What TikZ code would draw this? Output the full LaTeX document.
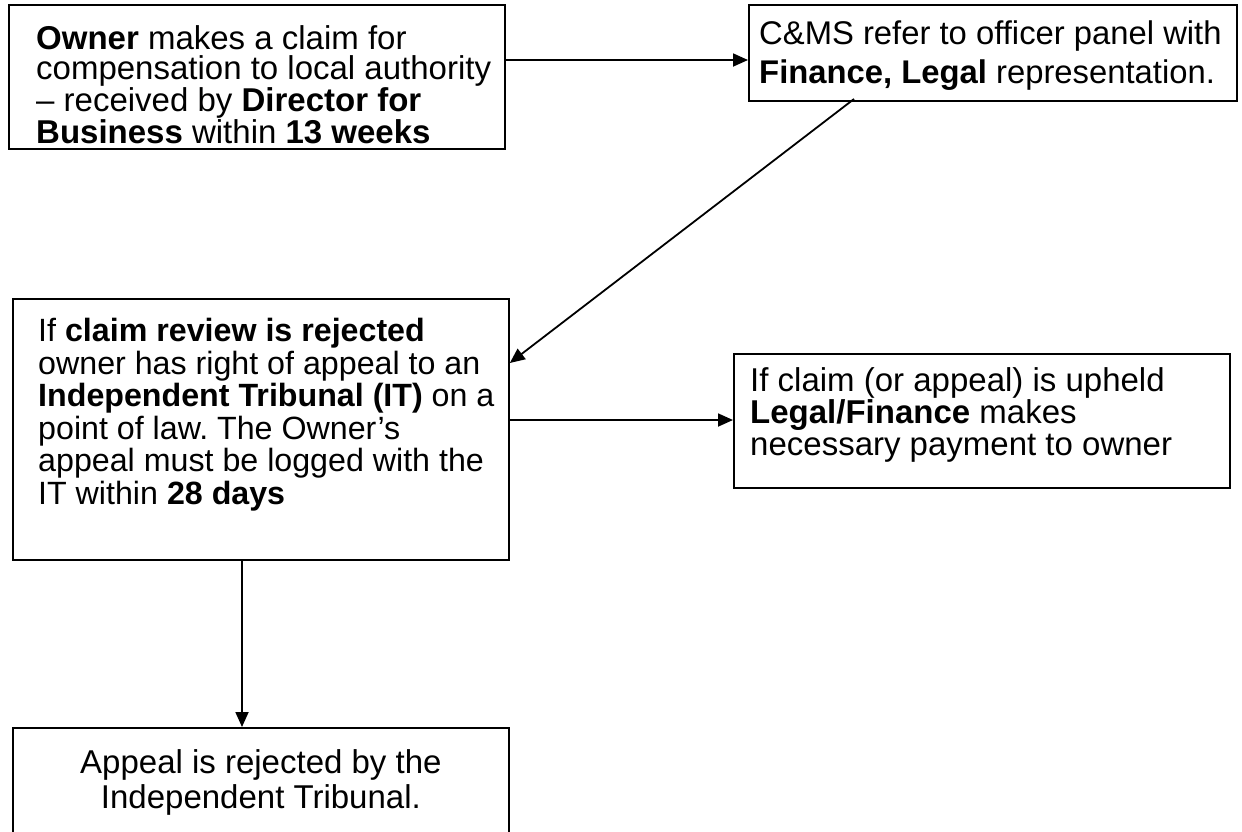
\documentclass[tikz,border=0pt]{standalone}
\usepackage{fontspec}
\setmainfont{Liberation Sans}
\usetikzlibrary{calc,arrows.meta}
\frenchspacing
\tikzset{
  box/.style={draw, line width=1.8pt, anchor=north west, inner sep=0pt},
  txt/.style={anchor=north west, inner sep=0pt, align=left},
  conn/.style={line width=1.8pt, -{Triangle[length=15pt,width=13pt]}}
}
\begin{document}
\begin{tikzpicture}[x=1pt,y=-1pt]
\useasboundingbox[fill=white] (0,0) rectangle (1242,831);
\begin{scope}
\clip (0,0) rectangle (1242,831);
\node[box, minimum width=496pt, minimum height=144pt] (b1) at (8,4) {};
\node[box, minimum width=488pt, minimum height=96pt] (b2) at (748,4) {};
\node[box, minimum width=496pt, minimum height=261pt] (b3) at (12,298) {};
\node[box, minimum width=496pt, minimum height=134pt] (b4) at (733,353) {};
\node[box, minimum width=496pt, minimum height=130pt] (b5) at (12,727) {};

\node[txt, font=\fontsize{33}{30.5}\selectfont] (t1) at ($(b1.north west)+(28,21)$) {\textbf{Owner} makes a claim for\\compensation to local authority\\– received by \textbf{Director for}\\\textbf{Business} within \textbf{13 weeks}};
\node[txt, font=\fontsize{32.8}{39}\selectfont] (t2) at ($(b2.north west)+(11,17)$) {C\&MS refer to officer panel with\\\textbf{Finance, Legal} representation.};
\node[txt, font=\fontsize{32.2}{32.5}\selectfont] (t3) at ($(b3.north west)+(26,20)$) {If \textbf{claim review is rejected}\\owner has right of appeal to an\\\textbf{Independent Tribunal (IT)} on a\\point of law. The Owner’s\\appeal must be logged with the\\IT within \textbf{28 days}};
\node[txt, font=\fontsize{33}{32}\selectfont] (t4) at ($(b4.north west)+(17,14)$) {If claim (or appeal) is upheld\\\textbf{Legal/Finance} makes\\necessary payment to owner};
\node[txt, anchor=north, align=center, font=\fontsize{33}{35}\selectfont] (t5) at ($(b5.north)+(0,22)$) {Appeal is rejected by the\\Independent Tribunal.};
\end{scope}

\draw[conn] (b1.east |- 0,60) -- (b2.west |- 0,60);
\coordinate (d1) at (854,99);
\draw[conn] (d1) -- (b3.east |- 0,363);
\draw[conn] (b3.east |- 0,420) -- (b4.west |- 0,420);
\draw[conn] (b3.south -| 242,0) -- (b5.north -| 242,0);
\end{tikzpicture}
\end{document}
